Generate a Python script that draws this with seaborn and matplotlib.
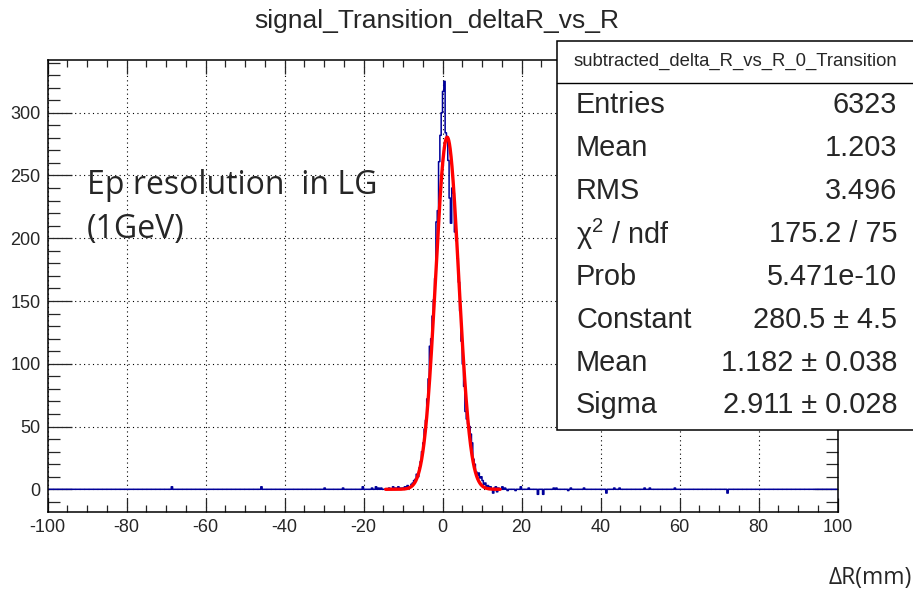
import numpy as np
import pandas as pd
import seaborn as sns
import matplotlib
matplotlib.use("Agg")
import matplotlib.pyplot as plt
from matplotlib.ticker import MultipleLocator
from matplotlib.patches import Rectangle
from matplotlib.lines import Line2D

# ---------------- data ----------------
x_min, x_max, n_bins = -100.0, 100.0, 600
core_start = -14.0  # left edge of first core bin (bin width 1/3)
core_counts = [
    0, 1, 0, 0, 2, 0, 1, 0, 2, 1, 0, 1,          # -14 .. -10
    1, 2, 1, 3, 2, 2,                            # -10 .. -8
    4, 5, 7, 8, 12, 10,                          # -8 .. -6
    17, 22, 30, 37, 48, 55,                      # -6 .. -4
    72, 88, 114, 120, 138, 151,                  # -4 .. -2
    168, 213, 222, 261, 282, 300,                # -2 .. 0
    317, 325, 284, 281, 262, 232,                # 0 .. 2
    212, 240, 236, 205, 198, 184,                # 2 .. 4
    165, 142, 118, 100, 82, 62,                  # 4 .. 6
    56, 52, 50, 44, 37, 24,                      # 6 .. 8
    20, 14, 11, 13, 9, 10,                       # 8 .. 10
    7, 4, 5, 2, 3, 0,                            # 10 .. 12
    2, 0, -3, 1, 2, -2,                          # 12 .. 14
    1, 0, 0, 2, 0, 1,                            # 14 .. 16
]
sparse_centers = [-68.4, -46.0, -30.0, -25.3, -20.2, -18.0, -17.0, -16.3, -15.5,
                  16.5, 18.6, 19.9, 21.9, 24.3, 25.5, 28.0, 28.8, 31.8, 32.6,
                  35.9, 41.5, 43.5, 44.7, 51.0, 52.5, 58.7, 72.0]
sparse_counts = [2, 2, 1, 1, 2, 1, 2, 1, 1,
                 -1, -1, 2, 1, -4, -4, 1, 1, -1, 1,
                 1, -3, 1, 1, 1, 1, 1, -3]

fit_constant, fit_mean, fit_sigma = 280.5, 1.182, 2.911
fit_lo, fit_hi = -14.4, 14.6

title = "signal_Transition_deltaR_vs_R"
stats_header = "subtracted_delta_R_vs_R_0_Transition"
stats_labels = ["Entries", "Mean", "RMS", "χ$^{2}$ / ndf", "Prob",
                "Constant", "Mean", "Sigma"]
stats_values = ["6323", "1.203", "3.496", "175.2 / 75", "5.471e-10",
                "280.5 ± 4.5", "1.182 ± 0.038", "2.911 ± 0.028"]
x_ticks_major = [-100, -80, -60, -40, -20, 0, 20, 40, 60, 80, 100]
y_ticks_major = [0, 50, 100, 150, 200, 250, 300]

# ---------------- build histogram table ----------------
edges = np.linspace(x_min, x_max, n_bins + 1)
centers = 0.5 * (edges[:-1] + edges[1:])
weights = np.zeros(n_bins)
i0 = int(round((core_start - x_min) * n_bins / (x_max - x_min)))
weights[i0:i0 + len(core_counts)] = core_counts
for c, v in zip(sparse_centers, sparse_counts):
    k = int(np.floor((c - x_min) * n_bins / (x_max - x_min)))
    weights[k] = v
df = pd.DataFrame({"dR": centers, "w": weights})

xs = np.linspace(fit_lo, fit_hi, 500)
fit_df = pd.DataFrame({"x": xs,
                       "y": fit_constant * np.exp(-0.5 * ((xs - fit_mean) / fit_sigma) ** 2)})

# ---------------- figure ----------------
sns.set_style("white")
plt.rcParams["font.family"] = ["Liberation Sans", "DejaVu Sans"]
plt.rcParams["mathtext.fontset"] = "custom"
plt.rcParams["mathtext.rm"] = "Liberation Sans"
plt.rcParams["mathtext.it"] = "Liberation Sans"
plt.rcParams["mathtext.default"] = "regular"

W, H = 913, 594
fig = plt.figure(figsize=(W / 100, H / 100), dpi=100)
ax_l, ax_r, ax_t, ax_b = 47.5, 837.5, 60.0, 512.4
ax = fig.add_axes([ax_l / W, 1 - ax_b / H, (ax_r - ax_l) / W, (ax_b - ax_t) / H])

ax.grid(True, which="major", linestyle=(0, (1, 3)), color="black", linewidth=0.8)
sns.histplot(data=df, x="dR", weights="w", bins=n_bins, binrange=(x_min, x_max),
             element="step", fill=False, color="#000099", linewidth=1.1, ax=ax)
sns.lineplot(data=fit_df, x="x", y="y", color="#ff0000", linewidth=2.4, ax=ax)

ax.set_xlim(x_min, x_max)
ax.set_ylim(-18.4, 342)
ax.set_xticks(x_ticks_major)
ax.set_yticks(y_ticks_major)
ax.xaxis.set_minor_locator(MultipleLocator(5))
ax.yaxis.set_minor_locator(MultipleLocator(10))
ax.tick_params(axis="x", which="major", direction="in", length=9.8, width=0.9,
               top=True, bottom=True, labelsize=13, pad=5)
ax.tick_params(axis="x", which="minor", direction="in", length=4.9, width=0.9,
               top=True, bottom=True)
ax.tick_params(axis="y", which="major", direction="in", length=17, width=0.9,
               left=True, right=True, labelsize=13, pad=5)
ax.tick_params(axis="y", which="minor", direction="in", length=8.5, width=0.9,
               left=True, right=True)
ax.set_xticklabels([str(t) for t in x_ticks_major])
ax.set_yticklabels([str(t) for t in y_ticks_major])
ax.set_xlabel("")
ax.set_ylabel("")
for s in ax.spines.values():
    s.set_linewidth(1.1)
    s.set_color("black")

# title
fig.text(437 / W, 1 - 21 / H, title, ha="center", va="center", fontsize=19)

# annotation
fig.text(87 / W, 1 - 186 / H, "Ep resolution  in LG", ha="left", va="center",
         fontsize=23, family=["Open Sans", "DejaVu Sans"])
fig.text(87 / W, 1 - 229 / H, "(1GeV)", ha="left", va="center",
         fontsize=23, family=["Open Sans", "DejaVu Sans"])
fig.text(912 / W, 1 - 578 / H, "ΔR(mm)", ha="right", va="center",
         fontsize=16.5, family=["Open Sans", "DejaVu Sans"])

# stats box
bx0, bx1, by0, by1, bsep = 557, 920, 41, 430, 83
fig.add_artist(Rectangle((bx0 / W, 1 - by1 / H), (bx1 - bx0) / W, (by1 - by0) / H,
                         transform=fig.transFigure, facecolor="white",
                         edgecolor="black", linewidth=1.1, zorder=10))
fig.add_artist(Line2D([bx0 / W, bx1 / W], [1 - bsep / H, 1 - bsep / H],
                      transform=fig.transFigure, color="black", linewidth=1.0, zorder=11))
fig.text(735 / W, 1 - 61 / H, stats_header, ha="center", va="center",
         fontsize=13.3, zorder=12)
row_y = [105, 148, 191, 234, 277, 320, 363, 405]
for lab, val, yy in zip(stats_labels, stats_values, row_y):
    fig.text(576 / W, 1 - yy / H, lab, ha="left", va="center", fontsize=20.8, zorder=12)
    fig.text(897 / W, 1 - yy / H, val, ha="right", va="center", fontsize=20.8, zorder=12)

fig.savefig("out.png", dpi=100)
